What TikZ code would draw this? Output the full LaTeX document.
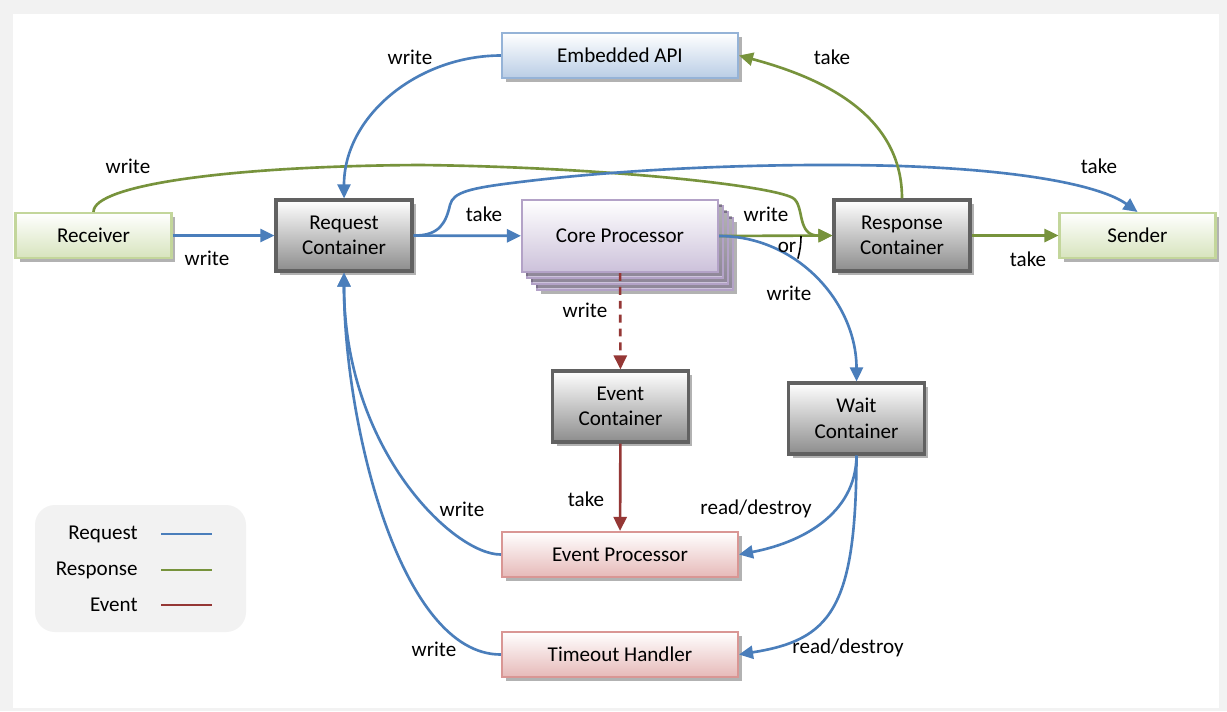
\documentclass[tikz,border=0pt]{standalone}
\usepackage{fontspec}
\setmainfont{Carlito}
\usetikzlibrary{arrows.meta,shadows}

\definecolor{reqline}{HTML}{4A7EBB}
\definecolor{resline}{HTML}{77933C}
\definecolor{evline}{HTML}{953735}
\definecolor{apiborder}{HTML}{95B3D7}
\definecolor{apifill}{HTML}{B9CDE5}
\definecolor{ioborder}{HTML}{C3D69B}
\definecolor{iofill}{HTML}{D7E4BD}
\definecolor{coreborder}{HTML}{B3A2C7}
\definecolor{corefill}{HTML}{CCC1DA}
\definecolor{hdlborder}{HTML}{D99694}
\definecolor{hdlfill}{HTML}{E6B9B8}

\tikzset{
  box/.style={shape=rectangle,align=center,line width=1.2pt,
    font=\fontsize{12}{14.5}\selectfont,
    drop shadow={shadow xshift=0.08cm,shadow yshift=-0.08cm,opacity=0.3,fill=black}},
  container/.style={box,draw=black!62,line width=1.8pt,top color=white,bottom color=black!45,
    minimum width=2.72cm,minimum height=1.42cm},
  endpoint/.style={box,draw=ioborder,top color=white,bottom color=iofill,
    minimum width=3.12cm,minimum height=0.9cm},
  api/.style={box,draw=apiborder,top color=white,bottom color=apifill,
    minimum width=4.72cm,minimum height=0.9cm},
  handler/.style={box,draw=hdlborder,top color=white,bottom color=hdlfill,
    minimum width=4.72cm,minimum height=0.9cm},
  core/.style={box,draw=coreborder,top color=white,bottom color=corefill,
    minimum width=3.92cm,minimum height=1.44cm},
  lbl/.style={font=\fontsize{12}{14}\selectfont,text=black,inner sep=0pt},
  tip/.style={-{Triangle[length=0.28cm,width=0.26cm]}},
  req/.style={draw=reqline,line width=1.5pt,tip},
  res/.style={draw=resline,line width=1.5pt,tip},
  evt/.style={draw=evline,line width=1.5pt,tip}
}

\begin{document}
\begin{tikzpicture}[x=0.02cm,y=-0.02cm]
% frame
\fill[gray!10] (0,0) rectangle (1227,711);
\fill[white] (13,14) rectangle (1219,708);
\useasboundingbox (0,0) rectangle (1227,711);

\node[endpoint] (rcv) at (93.5,235.5) {Receiver};
\node[container] (reqc) at (344,235.5) {Request\\Container};
\node[core] (core3) at (635,254) {};
\node[core] (core2) at (630,248) {};
\node[core] (core1) at (625,242) {};
\node[core] (core) at (620,236) {Core Processor};
\node[container] (resp) at (902,235.5) {Response\\Container};
\node[endpoint] (send) at (1137.5,235.5) {Sender};
\node[api] (emb) at (620,55.5) {Embedded API};
\node[container] (evc) at (620.5,406.5) {Event\\Container};
\node[container] (waitc) at (856.5,418.5) {Wait\\Container};
\node[handler] (evp) at (620,554.5) {Event Processor};
\node[handler] (tmo) at (620,654.5) {Timeout Handler};

\draw[req] (rcv) -- (reqc) node[lbl] at (207,258) {write};
\draw[res] (rcv.north) .. controls (93,185) and (230,166) .. (420,165)
  .. controls (600,167) and (770,185) .. (793,198)
  .. controls (805,206) and (796,236) .. (resp.west) node[lbl] at (128,166) {write};
\draw[req] (reqc) -- (core) node[lbl] at (484,214) {take};
\draw[req] (reqc.east) .. controls (440,236) and (446,222) .. (450,205)
  .. controls (453,192) and (470,188) .. (520,182)
  .. controls (650,166) and (800,163) .. (900,166)
  .. controls (1020,170) and (1100,185) .. (send.north) node[lbl] at (1099,166) {take};
\draw[req] (emb.west) to[out=180,in=90] (reqc.north) node[lbl] at (410,57) {write};
\draw[res] (resp.north) to[out=90,in=-15] (emb.east) node[lbl] at (832,57) {take};
\draw[res] (core.east) -- (resp.west) node[lbl] at (766,214) {write};
\draw[req] (core.east) to[out=0,in=90] (waitc.north) node[lbl] at (789,293) {write};
\draw[line width=0.9pt] ([xshift=1.64cm]core.east) arc[start angle=0,end angle=-16,radius=1.64cm]
  node[lbl] at (787,247) {or};
\draw[res] (resp) -- (send) node[lbl] at (1028,259) {take};
\draw[evt,dash pattern=on 4.5pt off 3.4pt] (core) -- (evc) node[lbl] at (585,310) {write};
\draw[evt] (evc) -- (evp) node[lbl] at (586,499) {take};
\draw[req] (waitc.south) .. controls (856,515) and (800,543) .. (evp.east)
  node[lbl] at (756,509) {read/destroy};
\draw[req] (waitc.south) .. controls (856,610) and (830,640) .. (tmo.east)
  node[lbl] at (848,648) {read/destroy};
\draw[req] (evp.west) .. controls (454,555) and (344,450) .. (reqc.south)
  node[lbl] at (462,509) {write};
\draw[req] (tmo.west) .. controls (400,655) and (344,423) .. (reqc.south)
  node[lbl] at (434,649) {write};

% legend
\fill[gray!10,rounded corners=0.4cm] (35,505) rectangle (246,632);
\node[lbl,anchor=east] (lreq) at (138,534) {Request};
\node[lbl,anchor=east] (lres) at (138,570) {Response};
\node[lbl,anchor=east] (lev) at (138,605) {Event};
\draw[reqline,line width=1.5pt] (161,534) -- (212,534);
\draw[resline,line width=1.5pt] (161,570) -- (212,570);
\draw[evline,line width=1.5pt] (161,605) -- (212,605);
\end{tikzpicture}
\end{document}
